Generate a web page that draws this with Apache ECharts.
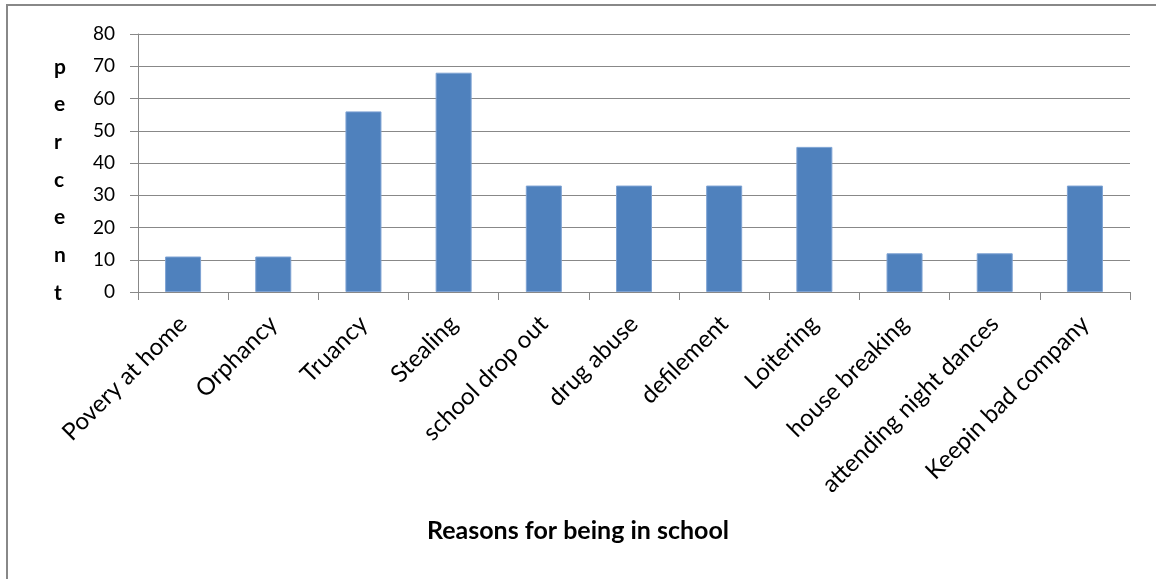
<!DOCTYPE html>
<html><head><meta charset="utf-8">
<script src="https://cdn.jsdelivr.net/npm/echarts@6/dist/echarts.min.js"></script>
<style>html,body{margin:0;padding:0;background:#fff}#c{width:1156px;height:579px}</style>
</head><body><div id="c"></div>
<script>
const categories = ['Povery at home','Orphancy','Truancy','Stealing','school drop out','drug abuse','defilement','Loitering','house breaking','attending night dances','Keepin bad company'];
const values = [11, 11, 56, 68, 33, 33, 33, 45, 12, 12, 33];
const yTicks = {min: 0, max: 80, interval: 10};
const xTitle = 'Reasons for being in school';
const yTitle = 'percent';

const FONT = 'Lato';
const chart = echarts.init(document.getElementById('c'), null, {renderer: 'canvas'});
chart.setOption({
  backgroundColor: '#fff',
  animation: false,
  grid: {left: 138, right: 26, top: 34, bottom: 287, containLabel: false},
  xAxis: {
    type: 'category', data: categories,
    axisLine: {show: true, lineStyle: {color: '#888', width: 1}},
    axisTick: {show: true, length: 8, alignWithLabel: false, lineStyle: {color: '#888'}},
    axisLabel: {rotate: 45, margin: 28, color: '#000', fontFamily: FONT, fontSize: 24, interval: 0}
  },
  yAxis: {
    type: 'value', min: yTicks.min, max: yTicks.max, interval: yTicks.interval,
    axisLine: {show: true, lineStyle: {color: '#888', width: 1}},
    axisTick: {show: true, length: 8, lineStyle: {color: '#888'}},
    splitLine: {show: true, lineStyle: {color: '#888', width: 1}},
    axisLabel: {margin: 23, color: '#000', fontFamily: FONT, fontSize: 19}
  },
  series: [{
    type: 'bar', data: values, barWidth: 36,
    itemStyle: {color: '#4F81BD', borderColor: '#7DA2D3', borderWidth: 1}
  }],
  graphic: [
    {type: 'polyline', shape: {points: [[7,579],[7,5],[1156,5]]}, style: {stroke: '#888', lineWidth: 2, fill: null}},
    {type: 'text', left: 54, top: 48, style: {text: yTitle.split('').join('\n'), font: 'bold 21px ' + FONT, fill: '#000', lineHeight: 37.7, align: 'center'}},
    {type: 'text', left: 'center', top: 518, style: {text: xTitle, font: 'bold 25px ' + FONT, fill: '#000'}}
  ]
});
</script></body></html>
